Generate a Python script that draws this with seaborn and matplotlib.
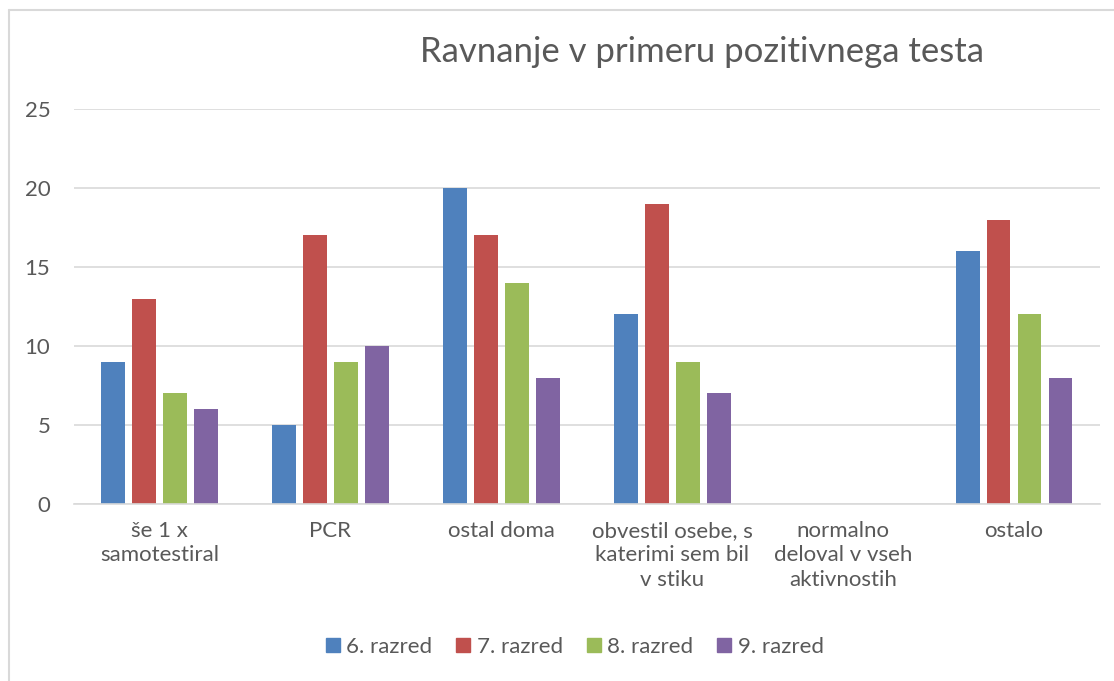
import pandas as pd
import matplotlib
matplotlib.use("Agg")
import matplotlib.pyplot as plt
from matplotlib.lines import Line2D
import seaborn as sns

categories = [
    "še 1 x\nsamotestiral",
    "PCR",
    "ostal doma",
    "obvestil osebe, s\nkaterimi sem bil\nv stiku",
    "normalno\ndeloval v vseh\naktivnostih",
    "ostalo",
]
grades = ["6. razred", "7. razred", "8. razred", "9. razred"]
razred_6 = [9, 5, 20, 12, 0, 16]
razred_7 = [13, 17, 17, 19, 0, 18]
razred_8 = [7, 9, 14, 9, 0, 12]
razred_9 = [6, 10, 8, 7, 0, 8]
colors = ["#4F81BD", "#C0504D", "#9BBB59", "#8064A2"]

rows = []
for grade, vals in zip(grades, [razred_6, razred_7, razred_8, razred_9]):
    for cat, v in zip(categories, vals):
        rows.append({"kategorija": cat, "razred": grade, "stevilo": v})
df = pd.DataFrame(rows)

sns.set_style("white")
plt.rcParams["font.family"] = ["Lato", "DejaVu Sans"]
text_col = "#595959"
grid_col = "#D9D9D9"

fig = plt.figure(figsize=(11.14, 6.81), dpi=100)
ax = fig.add_axes([0.0664, 0.260, 0.9206, 0.580])

sns.barplot(data=df, x="kategorija", y="stevilo", hue="razred",
            order=categories, hue_order=grades, palette=colors,
            width=0.725, gap=0.23, saturation=1, linewidth=0,
            legend=False, ax=ax)

ax.set_ylim(0, 25)
ax.set_yticks([0, 5, 10, 15, 20, 25])
ax.set_xlim(-0.5, len(categories) - 0.5)
ax.grid(axis="y", color=grid_col, linewidth=1.2)
ax.set_axisbelow(True)
for s in ["top", "right", "left"]:
    ax.spines[s].set_visible(False)
ax.spines["bottom"].set_color(grid_col)
ax.spines["bottom"].set_linewidth(1.2)
ax.tick_params(axis="both", length=0, labelsize=16, colors=text_col)
ax.tick_params(axis="y", pad=17)
ax.tick_params(axis="x", pad=12)
for lab in ax.get_xticklabels():
    lab.set_linespacing(1.3)
    lab.set_verticalalignment("top")
ax.set_xlabel("")
ax.set_ylabel("")

fig.text(0.630, 0.924, "Ravnanje v primeru pozitivnega testa", ha="center", va="center",
         fontsize=25, color=text_col)

handles = [Line2D([0], [0], marker="s", linestyle="", markersize=10,
                  markerfacecolor=c, markeredgecolor=c) for c in colors]
fig.legend(handles, grades, loc="center", bbox_to_anchor=(0.515, 0.050), ncol=4,
           frameon=False, fontsize=16, labelcolor=text_col, handlelength=0.8,
           handletextpad=0.2, columnspacing=1.0)

# chart border (left and top edges visible)
fig.add_artist(Line2D([0.0085, 0.0085], [0.0, 0.985], color=grid_col, linewidth=1.5,
                      transform=fig.transFigure))
fig.add_artist(Line2D([0.0085, 1.0], [0.985, 0.985], color=grid_col, linewidth=1.5,
                      transform=fig.transFigure))

fig.savefig("out.png", dpi=100)
